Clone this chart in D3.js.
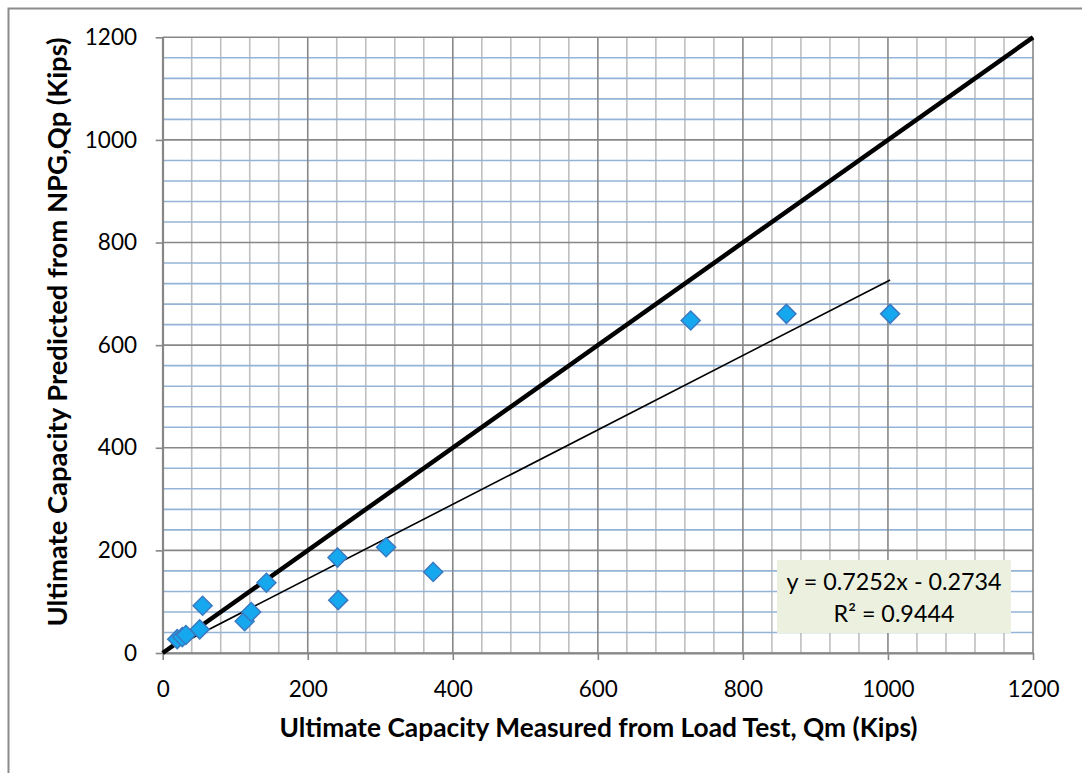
<!DOCTYPE html>
<html>
<head>
<meta charset="utf-8">
<script src="https://cdn.jsdelivr.net/npm/d3@7"></script>
<style>
  html, body { margin: 0; padding: 0; background: #fff; }
  svg { display: block; font-family: Lato, "Open Sans", sans-serif; }
</style>
</head>
<body>
<svg id="chart" width="1082" height="773"></svg>
<script>
// Measured vs predicted ultimate capacity (kips)
const measured  = [20, 27, 32, 51, 55, 113, 122, 143, 241, 242, 308, 373, 728, 860, 1003];
const predicted = [27, 31, 35, 46, 92, 62, 80, 137, 186, 103, 206, 158, 648, 661, 661];

// Linear fit reported on the chart
const fitSlope = 0.7252;
const fitIntercept = -0.2734;
const fitR2 = 0.9444;

const xTicks = [0, 200, 400, 600, 800, 1000, 1200];
const yTicks = [0, 200, 400, 600, 800, 1000, 1200];
const minorStep = 40;

const xTitle = "Ultimate Capacity Measured from Load Test, Qm (Kips)";
const yTitle = "Ultimate Capacity Predicted from NPG,Qp (Kips)";

const svg = d3.select("#chart");
const plotLeft = 162.7, plotRight = 1033, plotTop = 37.3, plotBottom = 653;

const x = d3.scaleLinear().domain([0, 1200]).range([plotLeft, plotRight]);
const y = d3.scaleLinear().domain([0, 1200]).range([plotBottom, plotTop]);

// chart frame (open to the right and bottom edges of the page)
svg.append("rect")
  .attr("x", 8.5).attr("y", 8.5).attr("width", 1200).attr("height", 900)
  .attr("fill", "#fff").attr("stroke", "#8c8c8c").attr("stroke-width", 2);

const minorVals = d3.range(0, 1200 + 1, minorStep).filter(v => v % 200 !== 0);
const grid = svg.append("g");

// minor vertical gridlines
grid.selectAll(".vminor").data(minorVals).join("line")
  .attr("x1", d => x(d)).attr("x2", d => x(d))
  .attr("y1", y(0)).attr("y2", y(1200))
  .attr("stroke", "#bfbfbf").attr("stroke-width", 1.6);

// minor horizontal gridlines
grid.selectAll(".hminor").data(minorVals).join("line")
  .attr("y1", d => y(d)).attr("y2", d => y(d))
  .attr("x1", x(0)).attr("x2", x(1200))
  .attr("stroke", "#95b3d7").attr("stroke-width", 1.6);

// major gridlines
grid.selectAll(".vmajor").data(xTicks).join("line")
  .attr("x1", d => x(d)).attr("x2", d => x(d))
  .attr("y1", y(0)).attr("y2", y(1200))
  .attr("stroke", "#878787").attr("stroke-width", 1.6);
grid.selectAll(".hmajor").data(yTicks).join("line")
  .attr("y1", d => y(d)).attr("y2", d => y(d))
  .attr("x1", x(0)).attr("x2", x(1200))
  .attr("stroke", "#878787").attr("stroke-width", 1.6);

// axes
const fmt = d3.format("d");
const xAxis = svg.append("g").attr("transform", `translate(0,${plotBottom})`)
  .call(d3.axisBottom(x).tickValues(xTicks).tickFormat(fmt)
    .tickSize(7).tickPadding(21).tickSizeOuter(0));
const yAxis = svg.append("g").attr("transform", `translate(${plotLeft},0)`)
  .call(d3.axisLeft(y).tickValues(yTicks).tickFormat(fmt)
    .tickSize(7).tickPadding(18.7).tickSizeOuter(0));
[xAxis, yAxis].forEach(g => {
  g.select(".domain").attr("stroke", "#878787").attr("stroke-width", 1.8);
  g.selectAll(".tick line").attr("stroke", "#878787").attr("stroke-width", 1.6);
  g.selectAll(".tick text").attr("fill", "#000")
    .style("font-family", "Lato, sans-serif").style("font-size", "22.5px");
});

// 1:1 reference line
svg.append("line")
  .attr("x1", x(0)).attr("y1", y(0)).attr("x2", x(1200)).attr("y2", y(1200))
  .attr("stroke", "#000").attr("stroke-width", 4.5);

// linear trend line over the measured range
const xMin = d3.min(measured), xMax = d3.max(measured);
svg.append("line")
  .attr("x1", x(xMin)).attr("y1", y(fitSlope * xMin + fitIntercept))
  .attr("x2", x(xMax)).attr("y2", y(fitSlope * xMax + fitIntercept))
  .attr("stroke", "#000").attr("stroke-width", 1.6);

// data points as diamonds
const pts = measured.map((m, i) => ({ m, p: predicted[i] }));
svg.append("g").selectAll("path").data(pts).join("path")
  .attr("transform", d => `translate(${x(d.m)},${y(d.p)})`)
  .attr("d", "M0,-9.5L9.5,0L0,9.5L-9.5,0Z")
  .attr("fill", "#16a8ee").attr("stroke", "#3a7ac2").attr("stroke-width", 1.5);

// trendline equation box
const box = svg.append("g");
box.append("rect")
  .attr("x", 777).attr("y", 560).attr("width", 234).attr("height", 73)
  .attr("fill", "#ebf1de");
box.append("text")
  .attr("x", 894).attr("y", 590).attr("text-anchor", "middle")
  .style("font-size", "23.3px").attr("fill", "#000")
  .text(`y = ${fitSlope}x - ${Math.abs(fitIntercept)}`);
box.append("text")
  .attr("x", 894).attr("y", 622).attr("text-anchor", "middle")
  .style("font-size", "23.3px").attr("fill", "#000")
  .text(`R² = ${fitR2}`);

// axis titles
svg.append("text")
  .attr("x", 598.5).attr("y", 737).attr("text-anchor", "middle")
  .style("font-size", "26.3px").style("font-weight", "bold").attr("fill", "#000")
  .text(xTitle);
svg.append("text")
  .attr("transform", "translate(67,332) rotate(-90)").attr("text-anchor", "middle")
  .style("font-size", "27.4px").style("font-weight", "bold").attr("fill", "#000")
  .text(yTitle);
</script>
</body>
</html>
